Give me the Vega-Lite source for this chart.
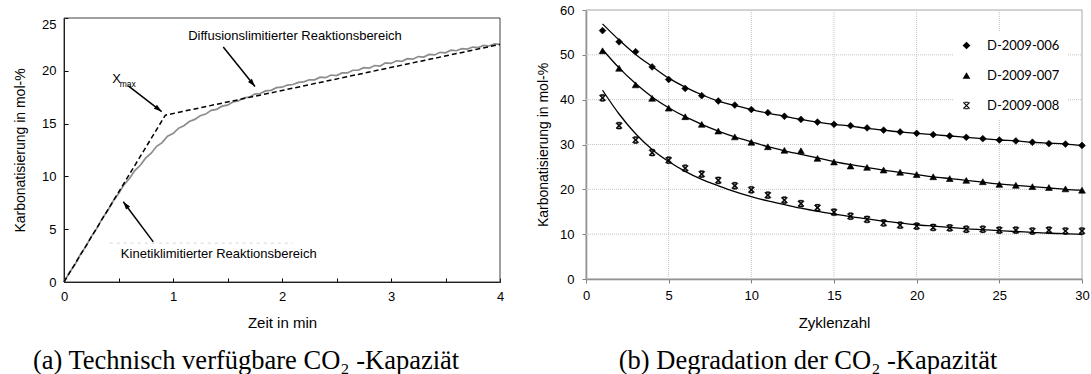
{
  "$schema": "https://vega.github.io/schema/vega-lite/v6.json",
  "width": 1091,
  "height": 374,
  "padding": 0,
  "autosize": {"type": "none"},
  "background": "white",
  "config": {
    "view": {"stroke": null},
    "font": "Liberation Sans",
    "axis": {"grid": false, "labelFont": "Liberation Sans", "labelFontSize": 13, "labelColor": "#000", "titleFont": "Liberation Sans", "titleFontWeight": "normal", "titleColor": "#000", "labelFlush": false, "labelOverlap": false}
  },
  "datasets": {
    "frameA": [{"x0": 0, "x1": 4, "y0": 0, "y1": 25}],
    "tangent": [{"t": 0, "v": 0}, {"t": 0.93, "v": 15.8}, {"t": 4, "v": 22.5}],
    "curve": [
      {"t": 0, "v": 0}, {"t": 0.05, "v": 0.9}, {"t": 0.1, "v": 1.65}, {"t": 0.15, "v": 2.6}, {"t": 0.2, "v": 3.35},
      {"t": 0.25, "v": 4.3}, {"t": 0.3, "v": 5.05}, {"t": 0.35, "v": 6.0}, {"t": 0.4, "v": 6.75}, {"t": 0.45, "v": 7.65},
      {"t": 0.5, "v": 8.35}, {"t": 0.55, "v": 9.2}, {"t": 0.6, "v": 9.8}, {"t": 0.65, "v": 10.55}, {"t": 0.7, "v": 11.05},
      {"t": 0.75, "v": 11.75}, {"t": 0.8, "v": 12.2}, {"t": 0.85, "v": 12.85}, {"t": 0.9, "v": 13.2}, {"t": 0.95, "v": 13.8},
      {"t": 1.0, "v": 14.05}, {"t": 1.05, "v": 14.55}, {"t": 1.1, "v": 14.8}, {"t": 1.15, "v": 15.2}, {"t": 1.2, "v": 15.4},
      {"t": 1.25, "v": 15.75}, {"t": 1.3, "v": 15.9}, {"t": 1.35, "v": 16.25}, {"t": 1.4, "v": 16.35}, {"t": 1.45, "v": 16.65},
      {"t": 1.5, "v": 16.75}, {"t": 1.55, "v": 17.05}, {"t": 1.6, "v": 17.15}, {"t": 1.65, "v": 17.45}, {"t": 1.7, "v": 17.5},
      {"t": 1.75, "v": 17.8}, {"t": 1.8, "v": 17.85}, {"t": 1.85, "v": 18.1}, {"t": 1.9, "v": 18.15}, {"t": 1.95, "v": 18.4},
      {"t": 2.0, "v": 18.45}, {"t": 2.05, "v": 18.65}, {"t": 2.1, "v": 18.7}, {"t": 2.15, "v": 18.9}, {"t": 2.2, "v": 18.95},
      {"t": 2.25, "v": 19.15}, {"t": 2.3, "v": 19.15}, {"t": 2.35, "v": 19.4}, {"t": 2.4, "v": 19.35}, {"t": 2.45, "v": 19.6},
      {"t": 2.5, "v": 19.55}, {"t": 2.55, "v": 19.8}, {"t": 2.6, "v": 19.8}, {"t": 2.65, "v": 20.05}, {"t": 2.7, "v": 20.05},
      {"t": 2.75, "v": 20.3}, {"t": 2.8, "v": 20.25}, {"t": 2.85, "v": 20.5}, {"t": 2.9, "v": 20.45}, {"t": 2.95, "v": 20.75},
      {"t": 3.0, "v": 20.7}, {"t": 3.05, "v": 20.95}, {"t": 3.1, "v": 20.9}, {"t": 3.15, "v": 21.15}, {"t": 3.2, "v": 21.1},
      {"t": 3.25, "v": 21.35}, {"t": 3.3, "v": 21.3}, {"t": 3.35, "v": 21.55}, {"t": 3.4, "v": 21.5}, {"t": 3.45, "v": 21.75},
      {"t": 3.5, "v": 21.7}, {"t": 3.55, "v": 21.95}, {"t": 3.6, "v": 21.9}, {"t": 3.65, "v": 22.1}, {"t": 3.7, "v": 22.05},
      {"t": 3.75, "v": 22.25}, {"t": 3.8, "v": 22.2}, {"t": 3.85, "v": 22.4}, {"t": 3.9, "v": 22.35}, {"t": 3.95, "v": 22.55},
      {"t": 4.0, "v": 22.5}
    ],
    "arrows": [
      {"id": "diff", "x0": 1.461, "y0": 22.25, "x1": 1.752, "y1": 18.51},
      {"id": "xmax", "x0": 0.59, "y0": 18.58, "x1": 0.896, "y1": 16.14},
      {"id": "kin", "x0": 0.819, "y0": 3.8, "x1": 0.544, "y1": 7.6}
    ],
    "notesA": [
      {"text": "Diffusionslimitierter Reaktionsbereich", "x": 2.119, "y": 23.25},
      {"text": "Kinetiklimitierter Reaktionsbereich", "x": 1.42, "y": 2.64},
      {"text": "X", "x": 0.483, "y": 19.24}
    ],
    "subA": [{"text": "max", "x": 0.585, "y": 18.75}],
    "remnant": [{"x0": 0.42, "x1": 2.1, "y": 3.68}],
    "captionA": [{"text": "(a) Technisch verfügbare CO₂ -Kapaziät", "x": 1.67, "y": -7.5}],
    "captionB": [{"text": "(b) Degradation der CO₂ -Kapazität", "x": 13.43, "y": -18.4}],
    "frameB": [{"x0": 0, "x1": 30, "y0": 0, "y1": 60}],
    "gridX": [{"g": 5}, {"g": 10}, {"g": 15}, {"g": 20}, {"g": 25}],
    "gridY": [{"g": 10}, {"g": 20}, {"g": 30}, {"g": 40}, {"g": 50}],
    "fits": [
      {"series": "D-2009-006", "n": 1, "k": 56.9}, {"series": "D-2009-006", "n": 2, "k": 53.3}, {"series": "D-2009-006", "n": 3, "k": 50.1},
      {"series": "D-2009-006", "n": 4, "k": 47.4}, {"series": "D-2009-006", "n": 5, "k": 44.8}, {"series": "D-2009-006", "n": 6, "k": 42.8},
      {"series": "D-2009-006", "n": 7, "k": 41.1}, {"series": "D-2009-006", "n": 8, "k": 39.7}, {"series": "D-2009-006", "n": 9, "k": 38.7},
      {"series": "D-2009-006", "n": 10, "k": 37.8}, {"series": "D-2009-006", "n": 11, "k": 37.0}, {"series": "D-2009-006", "n": 12, "k": 36.3},
      {"series": "D-2009-006", "n": 13, "k": 35.6}, {"series": "D-2009-006", "n": 14, "k": 35.0}, {"series": "D-2009-006", "n": 15, "k": 34.5},
      {"series": "D-2009-006", "n": 16, "k": 34.1}, {"series": "D-2009-006", "n": 17, "k": 33.6}, {"series": "D-2009-006", "n": 18, "k": 33.2},
      {"series": "D-2009-006", "n": 19, "k": 32.8}, {"series": "D-2009-006", "n": 20, "k": 32.5}, {"series": "D-2009-006", "n": 21, "k": 32.2},
      {"series": "D-2009-006", "n": 22, "k": 31.9}, {"series": "D-2009-006", "n": 23, "k": 31.6}, {"series": "D-2009-006", "n": 24, "k": 31.3},
      {"series": "D-2009-006", "n": 25, "k": 31.0}, {"series": "D-2009-006", "n": 26, "k": 30.8}, {"series": "D-2009-006", "n": 27, "k": 30.5},
      {"series": "D-2009-006", "n": 28, "k": 30.3}, {"series": "D-2009-006", "n": 29, "k": 30.1}, {"series": "D-2009-006", "n": 30, "k": 29.8},
      {"series": "D-2009-007", "n": 1, "k": 51.2}, {"series": "D-2009-007", "n": 2, "k": 47.1}, {"series": "D-2009-007", "n": 3, "k": 43.6},
      {"series": "D-2009-007", "n": 4, "k": 40.6}, {"series": "D-2009-007", "n": 5, "k": 38.2}, {"series": "D-2009-007", "n": 6, "k": 36.2},
      {"series": "D-2009-007", "n": 7, "k": 34.5}, {"series": "D-2009-007", "n": 8, "k": 33.0}, {"series": "D-2009-007", "n": 9, "k": 31.7},
      {"series": "D-2009-007", "n": 10, "k": 30.6}, {"series": "D-2009-007", "n": 11, "k": 29.5}, {"series": "D-2009-007", "n": 12, "k": 28.6},
      {"series": "D-2009-007", "n": 13, "k": 27.8}, {"series": "D-2009-007", "n": 14, "k": 27.0}, {"series": "D-2009-007", "n": 15, "k": 26.2},
      {"series": "D-2009-007", "n": 16, "k": 25.5}, {"series": "D-2009-007", "n": 17, "k": 24.9}, {"series": "D-2009-007", "n": 18, "k": 24.3},
      {"series": "D-2009-007", "n": 19, "k": 23.8}, {"series": "D-2009-007", "n": 20, "k": 23.3}, {"series": "D-2009-007", "n": 21, "k": 22.8},
      {"series": "D-2009-007", "n": 22, "k": 22.4}, {"series": "D-2009-007", "n": 23, "k": 22.0}, {"series": "D-2009-007", "n": 24, "k": 21.6},
      {"series": "D-2009-007", "n": 25, "k": 21.2}, {"series": "D-2009-007", "n": 26, "k": 20.9}, {"series": "D-2009-007", "n": 27, "k": 20.6},
      {"series": "D-2009-007", "n": 28, "k": 20.3}, {"series": "D-2009-007", "n": 29, "k": 20.0}, {"series": "D-2009-007", "n": 30, "k": 19.8},
      {"series": "D-2009-008", "n": 1, "k": 42.1}, {"series": "D-2009-008", "n": 2, "k": 36.8}, {"series": "D-2009-008", "n": 3, "k": 32.4},
      {"series": "D-2009-008", "n": 4, "k": 28.9}, {"series": "D-2009-008", "n": 5, "k": 26.2}, {"series": "D-2009-008", "n": 6, "k": 24.0},
      {"series": "D-2009-008", "n": 7, "k": 22.2}, {"series": "D-2009-008", "n": 8, "k": 20.8}, {"series": "D-2009-008", "n": 9, "k": 19.5},
      {"series": "D-2009-008", "n": 10, "k": 18.4}, {"series": "D-2009-008", "n": 11, "k": 17.4}, {"series": "D-2009-008", "n": 12, "k": 16.6},
      {"series": "D-2009-008", "n": 13, "k": 15.8}, {"series": "D-2009-008", "n": 14, "k": 15.1}, {"series": "D-2009-008", "n": 15, "k": 14.5},
      {"series": "D-2009-008", "n": 16, "k": 13.9}, {"series": "D-2009-008", "n": 17, "k": 13.4}, {"series": "D-2009-008", "n": 18, "k": 12.9},
      {"series": "D-2009-008", "n": 19, "k": 12.5}, {"series": "D-2009-008", "n": 20, "k": 12.1}, {"series": "D-2009-008", "n": 21, "k": 11.8},
      {"series": "D-2009-008", "n": 22, "k": 11.5}, {"series": "D-2009-008", "n": 23, "k": 11.2}, {"series": "D-2009-008", "n": 24, "k": 11.0},
      {"series": "D-2009-008", "n": 25, "k": 10.8}, {"series": "D-2009-008", "n": 26, "k": 10.6}, {"series": "D-2009-008", "n": 27, "k": 10.4},
      {"series": "D-2009-008", "n": 28, "k": 10.2}, {"series": "D-2009-008", "n": 29, "k": 10.1}, {"series": "D-2009-008", "n": 30, "k": 9.9}
    ],
    "points": [
      {"series": "D-2009-006", "n": 1, "k": 55.4}, {"series": "D-2009-006", "n": 2, "k": 52.9}, {"series": "D-2009-006", "n": 3, "k": 50.7},
      {"series": "D-2009-006", "n": 4, "k": 47.3}, {"series": "D-2009-006", "n": 5, "k": 44.5}, {"series": "D-2009-006", "n": 6, "k": 42.5},
      {"series": "D-2009-006", "n": 7, "k": 40.9}, {"series": "D-2009-006", "n": 8, "k": 39.7}, {"series": "D-2009-006", "n": 9, "k": 38.8},
      {"series": "D-2009-006", "n": 10, "k": 37.8}, {"series": "D-2009-006", "n": 11, "k": 37.1}, {"series": "D-2009-006", "n": 12, "k": 36.3},
      {"series": "D-2009-006", "n": 13, "k": 35.6}, {"series": "D-2009-006", "n": 14, "k": 35.0}, {"series": "D-2009-006", "n": 15, "k": 34.5},
      {"series": "D-2009-006", "n": 16, "k": 34.2}, {"series": "D-2009-006", "n": 17, "k": 33.7}, {"series": "D-2009-006", "n": 18, "k": 33.2},
      {"series": "D-2009-006", "n": 19, "k": 32.8}, {"series": "D-2009-006", "n": 20, "k": 32.5}, {"series": "D-2009-006", "n": 21, "k": 32.2},
      {"series": "D-2009-006", "n": 22, "k": 31.9}, {"series": "D-2009-006", "n": 23, "k": 31.6}, {"series": "D-2009-006", "n": 24, "k": 31.3},
      {"series": "D-2009-006", "n": 25, "k": 31.0}, {"series": "D-2009-006", "n": 26, "k": 30.8}, {"series": "D-2009-006", "n": 27, "k": 30.5},
      {"series": "D-2009-006", "n": 28, "k": 30.2}, {"series": "D-2009-006", "n": 29, "k": 30.1}, {"series": "D-2009-006", "n": 30, "k": 29.8},
      {"series": "D-2009-007", "n": 1, "k": 50.9}, {"series": "D-2009-007", "n": 2, "k": 47.0}, {"series": "D-2009-007", "n": 3, "k": 43.3},
      {"series": "D-2009-007", "n": 4, "k": 40.3}, {"series": "D-2009-007", "n": 5, "k": 38.1}, {"series": "D-2009-007", "n": 6, "k": 36.2},
      {"series": "D-2009-007", "n": 7, "k": 34.5}, {"series": "D-2009-007", "n": 8, "k": 33.0}, {"series": "D-2009-007", "n": 9, "k": 31.7},
      {"series": "D-2009-007", "n": 10, "k": 30.5}, {"series": "D-2009-007", "n": 11, "k": 29.5}, {"series": "D-2009-007", "n": 12, "k": 28.7},
      {"series": "D-2009-007", "n": 13, "k": 28.6}, {"series": "D-2009-007", "n": 14, "k": 26.9}, {"series": "D-2009-007", "n": 15, "k": 26.1},
      {"series": "D-2009-007", "n": 16, "k": 25.2}, {"series": "D-2009-007", "n": 17, "k": 24.9}, {"series": "D-2009-007", "n": 18, "k": 24.3},
      {"series": "D-2009-007", "n": 19, "k": 23.8}, {"series": "D-2009-007", "n": 20, "k": 23.3}, {"series": "D-2009-007", "n": 21, "k": 22.8},
      {"series": "D-2009-007", "n": 22, "k": 22.4}, {"series": "D-2009-007", "n": 23, "k": 22.0}, {"series": "D-2009-007", "n": 24, "k": 21.7},
      {"series": "D-2009-007", "n": 25, "k": 21.1}, {"series": "D-2009-007", "n": 26, "k": 20.9}, {"series": "D-2009-007", "n": 27, "k": 20.6},
      {"series": "D-2009-007", "n": 28, "k": 20.4}, {"series": "D-2009-007", "n": 29, "k": 20.1}, {"series": "D-2009-007", "n": 30, "k": 19.8},
      {"series": "D-2009-008", "n": 1, "k": 40.4}, {"series": "D-2009-008", "n": 2, "k": 34.2}, {"series": "D-2009-008", "n": 3, "k": 31.0},
      {"series": "D-2009-008", "n": 4, "k": 28.2}, {"series": "D-2009-008", "n": 5, "k": 26.5}, {"series": "D-2009-008", "n": 6, "k": 24.7},
      {"series": "D-2009-008", "n": 7, "k": 23.4}, {"series": "D-2009-008", "n": 8, "k": 22.0}, {"series": "D-2009-008", "n": 9, "k": 20.8},
      {"series": "D-2009-008", "n": 10, "k": 19.9}, {"series": "D-2009-008", "n": 11, "k": 18.7}, {"series": "D-2009-008", "n": 12, "k": 17.6},
      {"series": "D-2009-008", "n": 13, "k": 16.8}, {"series": "D-2009-008", "n": 14, "k": 15.9}, {"series": "D-2009-008", "n": 15, "k": 14.9},
      {"series": "D-2009-008", "n": 16, "k": 14.0}, {"series": "D-2009-008", "n": 17, "k": 13.3}, {"series": "D-2009-008", "n": 18, "k": 12.5},
      {"series": "D-2009-008", "n": 19, "k": 12.0}, {"series": "D-2009-008", "n": 20, "k": 11.8}, {"series": "D-2009-008", "n": 21, "k": 11.5},
      {"series": "D-2009-008", "n": 22, "k": 11.4}, {"series": "D-2009-008", "n": 23, "k": 11.1}, {"series": "D-2009-008", "n": 24, "k": 11.1},
      {"series": "D-2009-008", "n": 25, "k": 10.9}, {"series": "D-2009-008", "n": 26, "k": 10.9}, {"series": "D-2009-008", "n": 27, "k": 10.7},
      {"series": "D-2009-008", "n": 28, "k": 10.9}, {"series": "D-2009-008", "n": 29, "k": 10.7}, {"series": "D-2009-008", "n": 30, "k": 10.7}
    ]
  },
  "layer": [
    {
      "layer": [
        {
          "data": {"name": "frameA"},
          "mark": {"type": "rect", "filled": false, "stroke": "#404040", "strokeWidth": 1},
          "encoding": {
            "x": {"field": "x0", "type": "quantitative",
              "scale": {"domain": [0, 4], "range": [64, 500], "nice": false, "zero": false},
              "axis": {"title": "Zeit in min", "orient": "bottom", "offset": -92,
                "values": [0, 0.5, 1, 1.5, 2, 2.5, 3, 3.5, 4],
                "labelExpr": "datum.value % 1 === 0 ? format(datum.value, 'd') : ''",
                "tickSize": -4, "tickColor": "#000", "domainColor": "#000", "labelPadding": 12,
                "titleFontSize": 15, "titleX": 282, "titleY": 40, "titleAlign": "center", "titleBaseline": "middle"}},
            "x2": {"field": "x1"},
            "y": {"field": "y0", "type": "quantitative",
              "scale": {"domain": [0, 25], "range": [282, 18], "nice": false, "zero": false},
              "axis": {"title": "Karbonatisierung in mol-%", "orient": "left", "offset": -64,
                "values": [0, 2.5, 5, 7.5, 10, 12.5, 15, 17.5, 20, 22.5, 25],
                "labelExpr": "datum.value % 5 === 0 ? format(datum.value, 'd') : ''",
                "labelBaseline": {"condition": {"test": "datum.value === 25", "value": "top"}, "value": "middle"},
                "tickSize": -4, "tickColor": "#000", "domainColor": "#000", "labelPadding": 12,
                "titleFontSize": 14, "titleX": -44, "titleY": 150, "titleAngle": 270, "titleAlign": "center", "titleBaseline": "middle"}},
            "y2": {"field": "y1"}
          }
        },
        {
          "data": {"name": "remnant"},
          "mark": {"type": "rule", "stroke": "#d6d6d6", "strokeDash": [3, 4], "strokeWidth": 1},
          "encoding": {
            "x": {"field": "x0", "type": "quantitative"},
            "x2": {"field": "x1"},
            "y": {"field": "y", "type": "quantitative"}
          }
        },
        {
          "data": {"name": "curve"},
          "mark": {"type": "line", "stroke": "#8c8c8c", "strokeWidth": 1.7},
          "encoding": {
            "x": {"field": "t", "type": "quantitative"},
            "y": {"field": "v", "type": "quantitative"}
          }
        },
        {
          "data": {"name": "tangent"},
          "mark": {"type": "line", "stroke": "#000", "strokeWidth": 1.5, "strokeDash": [5, 3]},
          "encoding": {
            "x": {"field": "t", "type": "quantitative"},
            "y": {"field": "v", "type": "quantitative"}
          }
        },
        {
          "data": {"name": "arrows"},
          "mark": {"type": "rule", "stroke": "#000", "strokeWidth": 1.5},
          "encoding": {
            "x": {"field": "x0", "type": "quantitative"},
            "y": {"field": "y0", "type": "quantitative"},
            "x2": {"field": "x1"},
            "y2": {"field": "y1"}
          }
        },
        {
          "data": {"name": "arrows"},
          "transform": [{"filter": "datum.id === 'diff'"}],
          "mark": {"type": "point", "shape": "M0,0L-0.7,2.2L0.7,2.2Z", "size": 52, "filled": true, "fill": "#000", "opacity": 1, "angle": 141},
          "encoding": {
            "x": {"field": "x1", "type": "quantitative"},
            "y": {"field": "y1", "type": "quantitative"}
          }
        },
        {
          "data": {"name": "arrows"},
          "transform": [{"filter": "datum.id === 'xmax'"}],
          "mark": {"type": "point", "shape": "M0,0L-0.7,2.2L0.7,2.2Z", "size": 52, "filled": true, "fill": "#000", "opacity": 1, "angle": 128},
          "encoding": {
            "x": {"field": "x1", "type": "quantitative"},
            "y": {"field": "y1", "type": "quantitative"}
          }
        },
        {
          "data": {"name": "arrows"},
          "transform": [{"filter": "datum.id === 'kin'"}],
          "mark": {"type": "point", "shape": "M0,0L-0.7,2.2L0.7,2.2Z", "size": 52, "filled": true, "fill": "#000", "opacity": 1, "angle": -37},
          "encoding": {
            "x": {"field": "x1", "type": "quantitative"},
            "y": {"field": "y1", "type": "quantitative"}
          }
        },
        {
          "data": {"name": "notesA"},
          "mark": {"type": "text", "font": "Liberation Sans", "fontSize": 13, "color": "#000", "align": "center", "baseline": "middle"},
          "encoding": {
            "x": {"field": "x", "type": "quantitative"},
            "y": {"field": "y", "type": "quantitative"},
            "text": {"field": "text"}
          }
        },
        {
          "data": {"name": "subA"},
          "mark": {"type": "text", "font": "Liberation Sans", "fontSize": 8.5, "color": "#000", "align": "center", "baseline": "middle"},
          "encoding": {
            "x": {"field": "x", "type": "quantitative"},
            "y": {"field": "y", "type": "quantitative"},
            "text": {"field": "text"}
          }
        },
        {
          "data": {"name": "captionA"},
          "mark": {"type": "text", "font": "Liberation Serif", "fontSize": 26.5, "color": "#000", "align": "center", "baseline": "middle"},
          "encoding": {
            "x": {"field": "x", "type": "quantitative"},
            "y": {"field": "y", "type": "quantitative"},
            "text": {"field": "text"}
          }
        }
      ]
    },
    {
      "layer": [
        {
          "data": {"name": "frameB"},
          "mark": {"type": "rect", "filled": false, "stroke": "#a6a6a6", "strokeWidth": 1},
          "encoding": {
            "x": {"field": "x0", "type": "quantitative",
              "scale": {"domain": [0, 30], "range": [586, 1082], "nice": false, "zero": false},
              "axis": {"title": "Zyklenzahl", "orient": "bottom", "offset": -95,
                "values": [0, 5, 10, 15, 20, 25, 30], "format": "d",
                "tickSize": 4, "tickColor": "#808080", "domainColor": "#808080", "domainWidth": 1.5, "labelPadding": 6,
                "titleFontSize": 15, "titleX": 834, "titleY": 43, "titleAlign": "center", "titleBaseline": "middle"}},
            "x2": {"field": "x1"},
            "y": {"field": "y0", "type": "quantitative",
              "scale": {"domain": [0, 60], "range": [279, 10], "nice": false, "zero": false},
              "axis": {"title": "Karbonatisierung in mol-%", "orient": "left", "offset": -586,
                "values": [0, 10, 20, 30, 40, 50, 60], "format": "d",
                "tickSize": 4, "tickColor": "#808080", "domainColor": "#808080", "domainWidth": 1.5, "labelPadding": 8,
                "titleFontSize": 14, "titleX": -43, "titleY": 144.5, "titleAngle": 270, "titleAlign": "center", "titleBaseline": "middle"}},
            "y2": {"field": "y1"}
          }
        },
        {
          "data": {"name": "gridX"},
          "mark": {"type": "rule", "stroke": "#c4c4c4", "strokeDash": [1, 1], "strokeWidth": 1},
          "encoding": {
            "x": {"field": "g", "type": "quantitative"},
            "y": {"datum": 0},
            "y2": {"datum": 60}
          }
        },
        {
          "data": {"name": "gridY"},
          "mark": {"type": "rule", "stroke": "#c4c4c4", "strokeDash": [1, 1], "strokeWidth": 1},
          "encoding": {
            "y": {"field": "g", "type": "quantitative"},
            "x": {"datum": 0},
            "x2": {"datum": 30}
          }
        },
        {
          "data": {"name": "fits"},
          "mark": {"type": "line", "stroke": "#000", "strokeWidth": 1.3, "interpolate": "monotone"},
          "encoding": {
            "x": {"field": "n", "type": "quantitative"},
            "y": {"field": "k", "type": "quantitative"},
            "detail": {"field": "series", "type": "nominal"}
          }
        },
        {
          "data": {"name": "points"},
          "mark": {"type": "point", "filled": true, "fill": "#000", "stroke": "#000", "strokeWidth": 0.6, "opacity": 1, "size": 46},
          "encoding": {
            "x": {"field": "n", "type": "quantitative"},
            "y": {"field": "k", "type": "quantitative"},
            "shape": {"field": "series", "type": "nominal",
              "scale": {"domain": ["D-2009-006", "D-2009-007", "D-2009-008"],
                "range": ["diamond", "triangle-up", "M-0.687,-0.913L0.913,0.687L0.687,0.913L-0.913,-0.687ZM0.913,-0.687L-0.687,0.913L-0.913,0.687L0.687,-0.913ZM-0.5,-1L0.5,-1L0.5,-0.72L-0.5,-0.72ZM-0.5,0.72L0.5,0.72L0.5,1L-0.5,1Z"]},
              "legend": {"title": null, "orient": "none", "legendX": 953, "legendY": 32, "padding": 7,
                "fillColor": "#ffffff", "strokeColor": null, "labelFont": "Lato", "labelFontSize": 13, "labelColor": "#000",
                "labelOffset": 14, "rowPadding": 16, "symbolSize": 60, "symbolFillColor": "#000",
                "symbolStrokeColor": "#000", "symbolStrokeWidth": 0.6}}
          }
        },
        {
          "data": {"name": "captionB"},
          "mark": {"type": "text", "font": "Liberation Serif", "fontSize": 26.5, "color": "#000", "align": "center", "baseline": "middle"},
          "encoding": {
            "x": {"field": "x", "type": "quantitative"},
            "y": {"field": "y", "type": "quantitative"},
            "text": {"field": "text"}
          }
        }
      ]
    }
  ],
  "resolve": {"scale": {"x": "independent", "y": "independent"}, "axis": {"x": "independent", "y": "independent"}}
}
